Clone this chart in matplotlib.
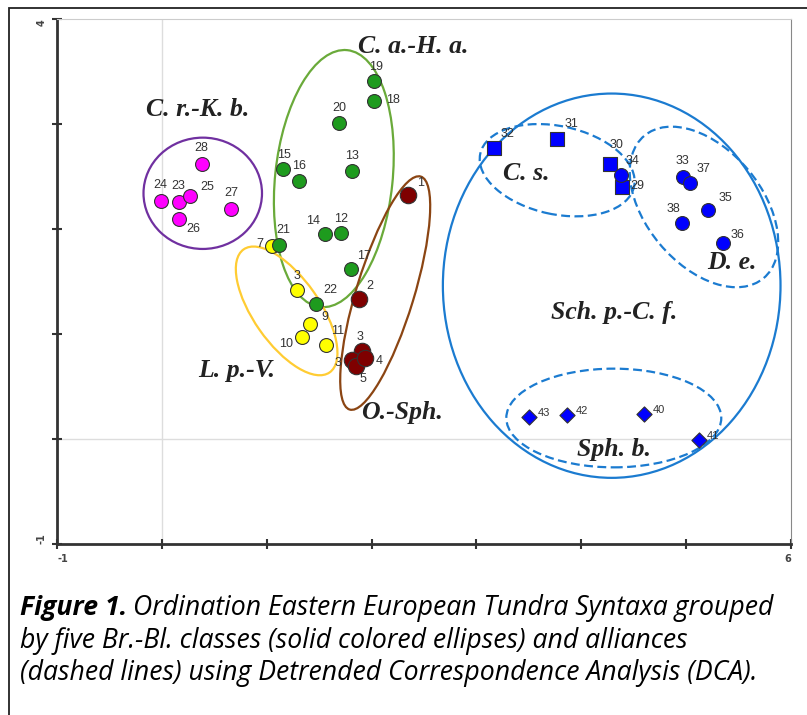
import matplotlib
matplotlib.use("Agg")
import matplotlib.pyplot as plt
from matplotlib.patches import Ellipse, Rectangle

# ── data (DCA axis 1 / axis 2 scores) ───────────────────────────
pink_ids = ["28", "24", "23", "25", "27", "26"]
pink_x = [0.38, -0.01, 0.16, 0.27, 0.66, 0.16]
pink_y = [2.62, 2.27, 2.26, 2.31, 2.19, 2.10]

green_ids = ["19", "18", "20", "13", "15", "16", "14", "12", "21", "17", "22"]
green_x = [2.02, 2.02, 1.69, 1.81, 1.16, 1.31, 1.56, 1.71, 1.12, 1.80, 1.47]
green_y = [3.41, 3.22, 3.01, 2.55, 2.57, 2.46, 1.95, 1.96, 1.85, 1.62, 1.29]

yellow_ids = ["7", "3", "9", "10", "11"]
yellow_x = [1.05, 1.29, 1.41, 1.34, 1.57]
yellow_y = [1.84, 1.42, 1.10, 0.97, 0.90]

red_ids = ["1", "2", "3", "3", "5", "4"]
red_x = [2.35, 1.88, 1.91, 1.81, 1.85, 1.94]
red_y = [2.32, 1.33, 0.84, 0.75, 0.70, 0.77]

sq_ids = ["32", "31", "30", "29"]
sq_x = [3.17, 3.77, 4.27, 4.39]
sq_y = [2.77, 2.86, 2.62, 2.40]

blue_ids = ["34", "33", "37", "35", "38", "36"]
blue_x = [4.38, 4.97, 5.04, 5.21, 4.96, 5.35]
blue_y = [2.51, 2.50, 2.44, 2.18, 2.06, 1.87]

dia_ids = ["43", "42", "40", "41"]
dia_x = [3.50, 3.86, 4.60, 5.12]
dia_y = [0.21, 0.23, 0.24, -0.01]

# label offsets in pixels (dx right, dy up)
pink_off = [(0, 16), (0, 16), (0, 16), (17, 9), (0, 16), (15, -10)]
green_off = [(2, 14), (19, 1), (0, 15), (0, 15), (1, 14), (0, 15), (-12, 13),
             (0, 14), (4, 15), (13, 13), (14, 14)]
yellow_off = [(-12, 2), (0, 14), (15, 7), (-16, -7), (11, 13)]
red_off = [(12, 12), (11, 13), (-2, 14), (-14, -3), (7, -14), (14, -3)]
sq_off = [(13, 14), (14, 15), (7, 19), (15, 1)]
blue_off = [(11, 14), (-1, 16), (13, 14), (17, 12), (-9, 14), (15, 8)]
dia_off = [(15, 4), (15, 4), (15, 4), (14, 4)]

# ellipses: centre x, centre y, width, height, angle
ell_purple = (0.39, 2.34, 1.13, 1.06, 0)
ell_green = (1.64, 2.48, 1.12, 2.46, -6)
ell_yellow = (1.19, 1.22, 1.43, 0.63, -55)
ell_brown = (2.13, 1.39, 2.32, 0.55, 73)
ell_blue = (4.29, 1.46, 3.22, 3.66, 0)
ell_cs = (3.77, 2.56, 1.50, 0.84, -12)
ell_de = (5.17, 2.21, 1.77, 1.10, -50)
ell_sph = (4.31, 0.20, 2.05, 0.94, 0)

group_names = ["C. r.-K. b.", "C. a.-H. a.", "L. p.-V.", "O.-Sph.",
               "C. s.", "D. e.", "Sch. p.-C. f.", "Sph. b."]
group_x = [0.34, 2.40, 0.71, 2.29, 3.48, 5.44, 4.31, 4.31]
group_y = [3.14, 3.74, 0.65, 0.25, 2.53, 1.68, 1.20, -0.10]

DPI = 100
PX = 72.0 / DPI

fig = plt.figure(figsize=(8.07, 7.15), dpi=DPI)
ax = fig.add_axes([57 / 807, 1 - 544 / 715, (791 - 57) / 807, (544 - 19) / 715])
ax.set_xlim(-1, 6)
ax.set_ylim(-1, 4)

# frame around the whole figure
fig.patches.append(Rectangle((9 / 807, -0.1), 1.2, 1 - 8 / 715 + 0.1,
                             transform=fig.transFigure, fill=False,
                             edgecolor="#222222", linewidth=1.3))

# grid lines at zero
ax.axvline(0, color="#dddddd", lw=1, zorder=0)
ax.axhline(0, color="#dddddd", lw=1, zorder=0)

# spines
for s in ["left", "bottom"]:
    ax.spines[s].set_linewidth(2)
    ax.spines[s].set_color("#333333")
ax.spines["top"].set_color("#cccccc")
ax.spines["right"].set_color("#888888")

ax.set_xticks(range(-1, 7))
ax.set_xticklabels(["-1", "", "", "", "", "", "", "6"])
ax.set_yticks(range(-1, 5))
ax.set_yticklabels(["-1", "", "", "", "", "4"], rotation=90)
ax.tick_params(direction="inout", length=7, width=1.5, color="#333333",
               labelsize=7, labelcolor="#444444", pad=4)
xl = ax.get_xticklabels()
xl[0].set_ha("left")
xl[-1].set_ha("right")
yl = ax.get_yticklabels()
yl[0].set_va("bottom")
yl[-1].set_va("top")
for t in xl + yl:
    t.set_fontweight("bold")


def add_ellipse(e, color, ls="-"):
    cx, cy, w, h, a = e
    ax.add_patch(Ellipse((cx, cy), w, h, angle=a, fill=False, edgecolor=color,
                         linewidth=1.6, linestyle=ls, zorder=2))


add_ellipse(ell_purple, "#7030A0")
add_ellipse(ell_green, "#6AAA3A")
add_ellipse(ell_yellow, "#FFCC33")
add_ellipse(ell_brown, "#8B4513")
add_ellipse(ell_blue, "#1B7BD0")
dash = (0, (4, 2))
add_ellipse(ell_cs, "#1B7BD0", dash)
add_ellipse(ell_de, "#1B7BD0", dash)
add_ellipse(ell_sph, "#1B7BD0", dash)


def points(xs, ys, ids, offs, color, marker="o", size=100, fs=9):
    ax.scatter(xs, ys, s=size, c=color, marker=marker, edgecolors="#333333",
               linewidths=0.8, zorder=3)
    for x, y, t, (dx, dy) in zip(xs, ys, ids, offs):
        ax.annotate(t, (x, y), xytext=(dx * PX, dy * PX), textcoords="offset points",
                    ha="center", va="center", fontsize=fs, family="Liberation Sans",
                    color="#333333", zorder=4)


points(yellow_x, yellow_y, yellow_ids, yellow_off, "#FFFF00")
points(pink_x, pink_y, pink_ids, pink_off, "#FF00FF")
points(green_x, green_y, green_ids, green_off, "#1E9B1E")
points(red_x, red_y, red_ids, red_off, "#7F0000", size=140)
points(sq_x, sq_y, sq_ids, sq_off, "#0000FF", marker="s", size=110)
points(blue_x, blue_y, blue_ids, blue_off, "#0000FF")
points(dia_x, dia_y, dia_ids, dia_off, "#0000FF", marker="D", size=60, fs=8)

for name, x, y in zip(group_names, group_x, group_y):
    ax.text(x, y, name, ha="center", va="center", fontsize=18.5,
            family="Liberation Serif", fontweight="bold", fontstyle="italic",
            color="#222222", zorder=5)

# caption
cap_fs = 19.2
cap_font = "Open Sans"
y1, y2, y3 = 1 - 608 / 715, 1 - 641 / 715, 1 - 673 / 715
x0 = 20 / 807
t1 = fig.text(x0, y1, "Figure 1.", fontsize=cap_fs, family=cap_font,
              fontweight="bold", fontstyle="italic", va="center")
fig.canvas.draw()
bb = t1.get_window_extent()
x1 = (bb.x1 + 6) / fig.bbox.width
fig.text(x1, y1, "Ordination Eastern European Tundra Syntaxa grouped",
         fontsize=cap_fs, family=cap_font, fontstyle="italic", va="center")
fig.text(x0, y2, "by five Br.-Bl. classes (solid colored ellipses) and alliances",
         fontsize=cap_fs, family=cap_font, fontstyle="italic", va="center")
fig.text(x0, y3, "(dashed lines) using Detrended Correspondence Analysis (DCA).",
         fontsize=cap_fs, family=cap_font, fontstyle="italic", va="center")

fig.savefig("out.png", dpi=DPI)
